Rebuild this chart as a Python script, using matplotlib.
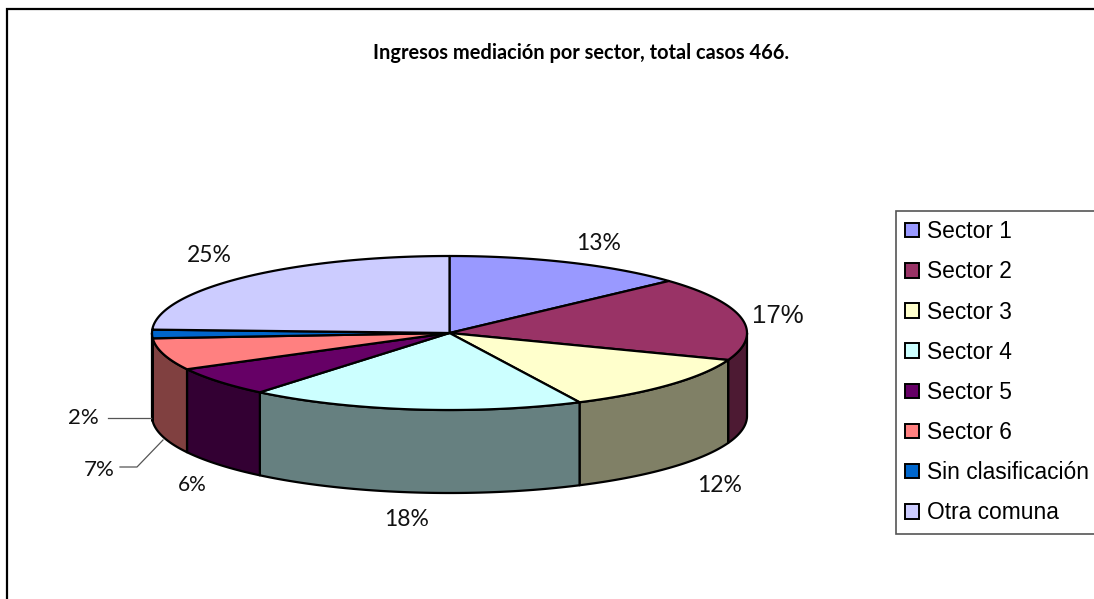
import numpy as np
import matplotlib
matplotlib.use("Agg")
import matplotlib.pyplot as plt
from matplotlib.patches import Polygon, Patch

title = "Ingresos mediación por sector, total casos 466."
categories = ["Sector 1", "Sector 2", "Sector 3", "Sector 4", "Sector 5",
              "Sector 6", "Sin clasificación", "Otra comuna"]
shares = [13.2, 17.5, 12.1, 18.2, 6.2, 6.7, 1.8, 24.3]
pct_labels = ["13%", "17%", "12%", "18%", "6%", "7%", "2%", "25%"]
colors = ["#9999FF", "#993366", "#FFFFCC", "#CCFFFF", "#660066",
          "#FF8080", "#0066CC", "#CCCCFF"]
label_pos = [(599, 244), (778, 316), (720, 485), (407, 520),
             (192, 485), (99, 470), (83, 418), (209, 256)]
label_size = [16.5, 18.5, 16.5, 16.5, 15, 16, 16, 16.5]

CX, CY, RX, RY, DEPTH = 449.5, 333, 297.5, 77, 83
LW = 1.6

fig = plt.figure(figsize=(10.94, 5.99), dpi=100)
ax = fig.add_axes([0, 0, 1, 1])
ax.set_xlim(0, 1094)
ax.set_ylim(599, 0)
ax.axis("off")


def rim(t0, t1, dy=0.0):
    t = np.radians(np.linspace(t0, t1, max(int(abs(t1 - t0) * 2), 2)))
    return np.column_stack([CX + RX * np.sin(t), CY + dy - RY * np.cos(t)])


def shade(c):
    r, g, b = matplotlib.colors.to_rgb(c)
    return (r * 0.5, g * 0.5, b * 0.5)


# chart frame
ax.plot([7, 7, 1094], [599, 9, 9], color="black", lw=1.6, solid_joinstyle="miter")

edges = np.concatenate([[0], np.cumsum(shares)]) / np.sum(shares) * 360

# outer wall of the disc (front half only)
for i, c in enumerate(colors):
    a, b = max(edges[i], 90), min(edges[i + 1], 270)
    if b > a:
        pts = np.vstack([rim(a, b), rim(b, a, DEPTH)])
        ax.add_patch(Polygon(pts, closed=True, fc=shade(c), ec="black",
                             lw=LW, joinstyle="round"))

# top face
for i, c in enumerate(colors):
    pts = np.vstack([[CX, CY], rim(edges[i], edges[i + 1])])
    ax.add_patch(Polygon(pts, closed=True, fc=c, ec="black",
                         lw=LW, joinstyle="round"))

# leader lines
ax.plot([108, 151], [418, 418], color="#555555", lw=0.9)
ax.plot([120, 137, 163], [467, 467, 440], color="#555555", lw=0.9)

for s, (x, y), fs in zip(pct_labels, label_pos, label_size):
    fam = "Liberation Sans" if s == "17%" else "Lato"
    ax.text(x, y, s, ha="center", va="center", fontsize=fs, family=fam, color="#111111")

ax.text(581, 53, title, ha="center", va="center", fontsize=14.4,
        family="Lato", fontweight="bold", color="black")

handles = [Patch(fc=c, ec="black", lw=1.4) for c in colors]
leg = ax.legend(handles, categories, loc="upper left",
                bbox_to_anchor=(896, 211), bbox_transform=ax.transData,
                prop={"family": "Liberation Sans", "size": 16.4},
                frameon=True, fancybox=False, framealpha=1, edgecolor="#555555",
                borderaxespad=0, borderpad=0.4, labelspacing=0.755,
                handlelength=0.6, handleheight=0.6, handletextpad=0.38)
leg.get_frame().set_linewidth(1.2)
leg.set_clip_on(False)

fig.savefig("out.png", dpi=100)
